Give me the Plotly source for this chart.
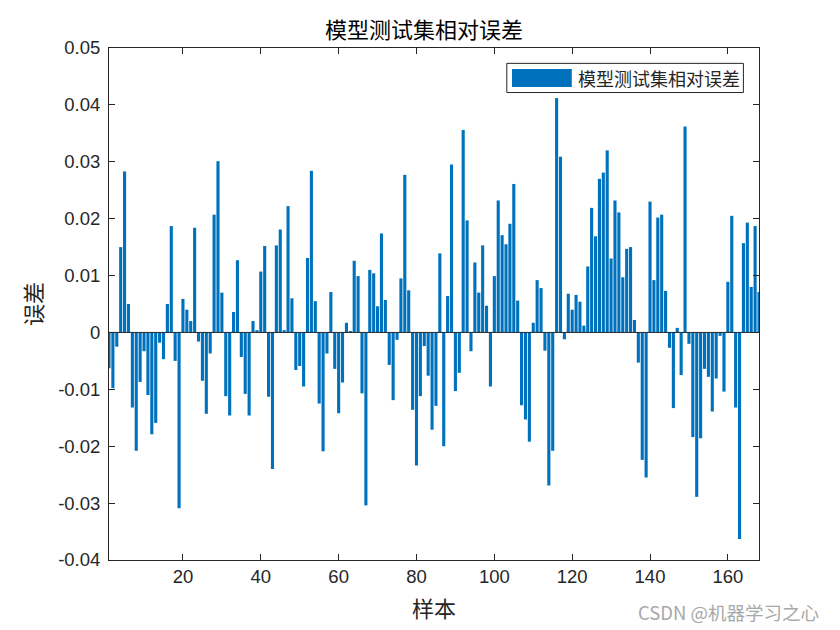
import plotly.graph_objs as go

# relative Fehler pro Testsample
rel_error = [
    -0.0063, -0.0098, -0.0025, 0.0150, 0.0283, 0.0050, -0.0132, -0.0208, -0.0087, -0.0033,
    -0.0110, -0.0179, -0.0159, -0.0018, -0.0047, 0.0050, 0.0187, -0.0050, -0.0309, 0.0059,
    0.0040, 0.0020, 0.0184, -0.0016, -0.0085, -0.0143, -0.0037, 0.0207, 0.0301, 0.0070,
    -0.0112, -0.0146, 0.0036, 0.0127, -0.0043, -0.0108, -0.0146, 0.0020, 0.0004, 0.0107,
    0.0152, -0.0113, -0.0240, 0.0153, 0.0181, 0.0004, 0.0222, 0.0060, -0.0066, -0.0059,
    -0.0095, 0.0131, 0.0284, 0.0055, -0.0125, -0.0209, -0.0037, 0.0071, -0.0064, -0.0142,
    -0.0088, 0.0017, 0.0002, 0.0126, 0.0099, -0.0107, -0.0304, 0.0110, 0.0104, 0.0046,
    0.0174, 0.0057, -0.0057, -0.0119, -0.0013, 0.0095, 0.0277, 0.0074, -0.0136, -0.0234,
    -0.0112, -0.0024, -0.0076, -0.0171, -0.0129, 0.0139, -0.0200, 0.0064, 0.0295, -0.0103,
    -0.0071, 0.0356, 0.0197, -0.0033, 0.0123, 0.0070, 0.0153, 0.0047, -0.0095, 0.0099,
    0.0232, 0.0171, 0.0155, 0.0191, 0.0261, 0.0056, -0.0128, -0.0153, -0.0192, 0.0017,
    0.0092, 0.0078, -0.0032, -0.0269, -0.0208, 0.0412, 0.0309, -0.0012, 0.0068, 0.0040,
    0.0066, 0.0054, 0.0012, 0.0116, 0.0219, 0.0169, 0.0270, 0.0281, 0.0320, 0.0130,
    0.0232, 0.0211, 0.0097, 0.0147, 0.0150, 0.0022, -0.0053, -0.0224, -0.0255, 0.0230,
    0.0092, 0.0202, 0.0207, 0.0073, -0.0027, -0.0133, 0.0008, -0.0075, 0.0362, -0.0020,
    -0.0184, -0.0289, -0.0186, -0.0064, -0.0078, -0.0139, -0.0081, -0.0006, -0.0104, 0.0089,
    0.0205, -0.0132, -0.0363, 0.0157, 0.0193, 0.0080, 0.0187, 0.0071,
]
samples = list(range(1, len(rel_error) + 1))

x_ticks = [20, 40, 60, 80, 100, 120, 140, 160]
y_ticks = [-0.04, -0.03, -0.02, -0.01, 0, 0.01, 0.02, 0.03, 0.04, 0.05]
y_ticktext = ["-0.04", "-0.03", "-0.02", "-0.01", "0", "0.01", "0.02", "0.03", "0.04", "0.05"]

series_name = "模型测试集相对误差"
bar_color = "#0072BD"
axis_color = "#262626"
cjk_font = "Noto Sans CJK SC"
num_font = "Liberation Sans, Arial, sans-serif"

fig = go.Figure()

fig.add_trace(go.Bar(
    x=samples,
    y=rel_error,
    width=0.8,
    marker=dict(color=bar_color, line=dict(width=0)),
    name=series_name,
    showlegend=False))

# Achsen wie in MATLAB: Box, Ticks innen
axis_common = dict(
    showline=True,
    linecolor=axis_color,
    linewidth=1,
    mirror="ticks",
    ticks="inside",
    ticklen=6,
    tickcolor=axis_color,
    showgrid=False,
    automargin=False,
    tickfont=dict(family=num_font, size=18.5, color=axis_color),
)

fig.update_xaxes(
    range=[1, len(rel_error)],
    tickvals=x_ticks,
    zeroline=False,
    title=dict(text="样本", font=dict(family=cjk_font, size=22, color=axis_color), standoff=15),
    **axis_common)

fig.update_yaxes(
    range=[-0.04, 0.05],
    tickvals=y_ticks,
    ticktext=y_ticktext,
    zeroline=False,
    ticklabelstandoff=4,
    title=dict(text="误差", font=dict(family=cjk_font, size=22, color=axis_color), standoff=9),
    **axis_common)

# Basislinie bei 0 ueber den Balken
fig.add_shape(type="line", xref="x domain", yref="y", x0=0, x1=1, y0=0, y1=0,
              line=dict(color=axis_color, width=1), layer="above")

# Legende im MATLAB-Stil (breites Farbfeld)
fig.add_shape(type="rect", xref="paper", yref="paper", x0=0.612, x1=0.976, y0=0.913, y1=0.970,
              line=dict(color=axis_color, width=1), fillcolor="white", layer="above")
fig.add_shape(type="rect", xref="paper", yref="paper", x0=0.620, x1=0.712, y0=0.924, y1=0.959,
              line=dict(width=0), fillcolor=bar_color, layer="above")
fig.add_annotation(text=series_name, xref="paper", yref="paper", x=0.719, y=0.9415,
                   xanchor="left", yanchor="middle", showarrow=False,
                   font=dict(family=cjk_font, size=18, color=axis_color))

# Wasserzeichen
fig.add_annotation(text="CSDN @机器学习之心", xref="paper", yref="paper", x=1.095, y=-0.1016,
                   xanchor="right", yanchor="middle", showarrow=False,
                   font=dict(family=cjk_font, size=18.5, color="#a8a8a8"))

# die HTML-Seite hat 8px Rand, daher Figur etwas kleiner
fig.update_layout(
    title=dict(text=series_name, x=0.5, xanchor="center", y=0.9646, yanchor="middle",
               font=dict(family=cjk_font, size=22, color="#000000")),
    width=832,
    height=622,
    margin=dict(l=101, r=81, t=40, b=70),
    paper_bgcolor="white",
    plot_bgcolor="white",
    bargap=0.2)

fig.write_html("out.html")
